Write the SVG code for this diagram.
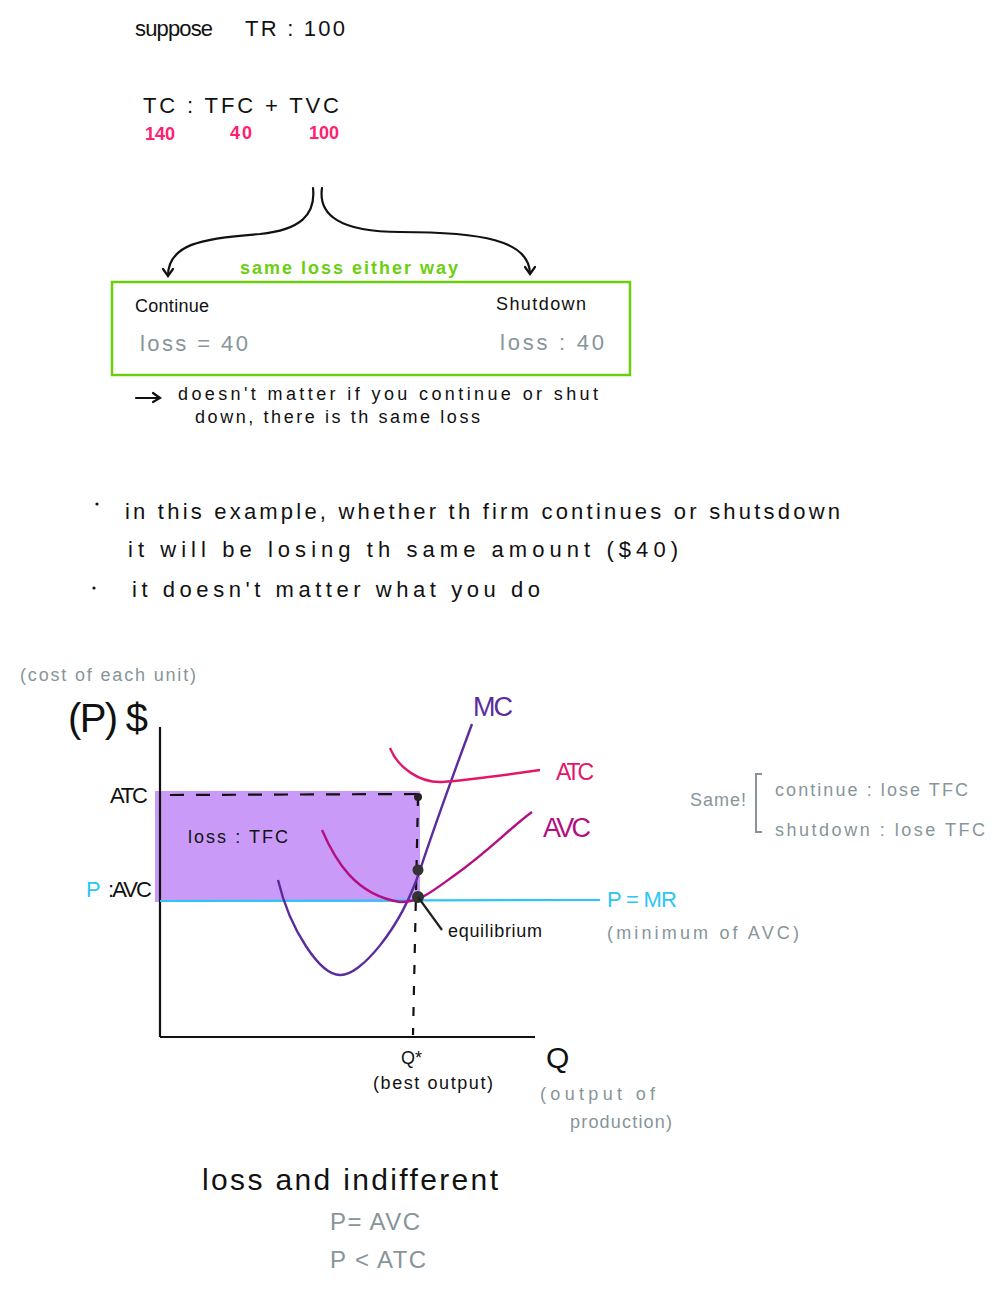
<svg xmlns="http://www.w3.org/2000/svg" width="1001" height="1297" viewBox="0 0 1001 1297">
<style>
text{font-family:"Liberation Sans","Noto Sans",sans-serif;fill:#111}
.t{font-size:22px}
.s{font-size:18px}
.pink{fill:#ff2070;font-size:18px;font-weight:bold}
.gray{fill:#87959a}
.green{fill:#6bcf0f;font-weight:bold;font-size:18px}
.cyan{fill:#2cc6f5}
.ln{fill:none;stroke:#111;stroke-width:2.2;stroke-linecap:round}
</style>
<defs>
<marker id="ah" viewBox="0 0 12 12" refX="10" refY="6" markerWidth="12" markerHeight="12" orient="auto" markerUnits="userSpaceOnUse">
<path d="M3,1 L10,6 L3,11" fill="none" stroke="#111" stroke-width="2.2" stroke-linecap="round"/>
</marker>
</defs>
<rect width="1001" height="1297" fill="#fff"/>

<g id="header">
<text class="t" x="135" y="36" textLength="78">suppose</text>
<text class="t" x="245" y="36" textLength="100">TR : 100</text>
<text class="t" x="143" y="113" textLength="196">TC : TFC + TVC</text>
<text class="pink" x="145" y="140" textLength="30">140</text>
<text class="pink" x="230" y="139" textLength="22">40</text>
<text class="pink" x="309" y="139" textLength="30">100</text>
</g>

<g id="connectors">
<path class="ln" d="M313,188 C316,215 300,230 260,234 C200,238 168,245 168,276" marker-end="url(#ah)"/>
<path class="ln" d="M322,188 C318,215 340,232 400,232 C480,232 530,240 530,274" marker-end="url(#ah)"/>
</g>

<g id="box">
<rect x="112" y="282" width="518" height="93" fill="none" stroke="#6bcf0f" stroke-width="2.5"/>
<text class="green" x="240" y="274" textLength="218">same loss either way</text>
<text class="s" x="135" y="312" textLength="74">Continue</text>
<text class="s" x="496" y="310" textLength="90">Shutdown</text>
<text class="t gray" x="140" y="351" textLength="108">loss = 40</text>
<text class="t gray" x="500" y="350" textLength="104">loss : 40</text>
</g>

<g id="note">
<path class="ln" d="M136,398 L159,398 M153,393 L160,398 L153,402" stroke-width="2"/>
<text class="s" x="178" y="400" textLength="420">doesn't matter if you continue or shut</text>
<text class="s" x="195" y="423" textLength="285">down, there is th same loss</text>
</g>

<g id="bullets">
<circle cx="97" cy="504" r="1.6" fill="#111"/>
<text class="t" x="125" y="519" textLength="715">in this example, whether th firm continues or shutsdown</text>
<text class="t" x="128" y="557" textLength="550">it will be losing th same amount ($40)</text>
<circle cx="94" cy="588" r="1.6" fill="#111"/>
<text class="t" x="132" y="597" textLength="408">it doesn't matter what you do</text>
</g>

<g id="graph">
<text class="s gray" x="20" y="681" textLength="176">(cost of each unit)</text>
<text x="68" y="732" font-size="40" textLength="80">(P) $</text>
<rect x="155" y="791" width="265" height="111" fill="#c99af7"/>
<line x1="160" y1="727" x2="160" y2="1037" stroke="#111" stroke-width="2.2"/>
<line x1="160" y1="1037" x2="535" y2="1037" stroke="#111" stroke-width="2.2"/>
<text class="t" x="110" y="803" textLength="38">ATC</text>
<text class="t cyan" x="86" y="897">P</text>
<text class="t" x="108" y="897" textLength="44">:AVC</text>
<line x1="170" y1="795" x2="418" y2="794" stroke="#111" stroke-width="2.2" stroke-dasharray="14,12"/>
<line x1="418" y1="797" x2="413" y2="1035" stroke="#111" stroke-width="2.2" stroke-dasharray="9,12"/>
<line x1="160" y1="901" x2="600" y2="900" stroke="#2cc6f5" stroke-width="2.2"/>
<path d="M278,880 C290,930 320,975 340,975 C360,976 400,930 420,870 C440,810 455,770 472,724" fill="none" stroke="#5a2c9c" stroke-width="2.4"/>
<path d="M390,748 C398,768 420,783 442,782 C470,780 505,775 540,770" fill="none" stroke="#e3166a" stroke-width="2.4"/>
<path d="M322,830 C335,860 355,895 400,902 C420,902 430,893 455,875 C490,850 510,828 532,812" fill="none" stroke="#b40f80" stroke-width="2.4"/>
<circle cx="418" cy="797" r="4" fill="#222"/>
<circle cx="418" cy="870" r="5.5" fill="#333"/>
<circle cx="418" cy="897" r="6" fill="#333"/>
<line x1="418" y1="897" x2="442" y2="930" stroke="#222" stroke-width="2.2"/>
<text class="s" x="448" y="937" textLength="94">equilibrium</text>
<text class="s" x="188" y="843" textLength="100">loss : TFC</text>
<text x="473" y="716" font-size="27" style="fill:#5a2c9c" textLength="40">MC</text>
<text x="556" y="780" font-size="23" style="fill:#e3166a" textLength="38">ATC</text>
<text x="543" y="837" font-size="27" style="fill:#b40f80" textLength="48">AVC</text>
<text class="t cyan" x="607" y="907" textLength="70">P = MR</text>
<text class="s gray" x="607" y="939" textLength="192">(minimum of AVC)</text>
<text class="s" x="401" y="1064">Q*</text>
<text class="s" x="373" y="1089" textLength="120">(best output)</text>
<text x="546" y="1068" font-size="30" textLength="28">Q</text>
<text class="s gray" x="540" y="1100" textLength="115">(output of</text>
<text class="s gray" x="570" y="1128" textLength="102">production)</text>
</g>

<g id="same">
<text class="s gray" x="690" y="806" textLength="56">Same!</text>
<path d="M762,774 L756,774 L756,832 L762,832" fill="none" stroke="#87959a" stroke-width="2"/>
<text class="s gray" x="775" y="796" textLength="193">continue : lose TFC</text>
<text class="s gray" x="775" y="836" textLength="210">shutdown : lose TFC</text>
</g>

<g id="summary">
<text x="202" y="1190" font-size="30" textLength="296">loss and indifferent</text>
<text x="330" y="1230" font-size="24" class="gray" textLength="90">P= AVC</text>
<text x="330" y="1268" font-size="24" class="gray" textLength="96">P &lt; ATC</text>
</g>
</svg>
